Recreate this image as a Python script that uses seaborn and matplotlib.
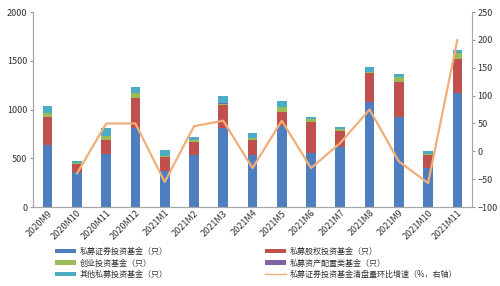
import numpy as np
import pandas as pd
import seaborn as sns
import matplotlib.pyplot as plt

months = ["2020M9", "2020M10", "2020M11", "2020M12", "2021M1", "2021M2", "2021M3",
          "2021M4", "2021M5", "2021M6", "2021M7", "2021M8", "2021M9", "2021M10", "2021M11"]

# 各类私募基金新增数量（只）
securities = [640, 360, 545, 810, 370, 530, 810, 535, 830, 555, 615, 1075, 920, 400, 1170]
equity = [280, 80, 145, 310, 140, 135, 235, 150, 145, 320, 165, 300, 360, 135, 350]
venture = [40, 10, 40, 50, 15, 25, 15, 20, 50, 30, 20, 10, 50, 10, 60]
allocation = [3, 2, 3, 3, 2, 2, 3, 2, 3, 2, 2, 3, 3, 2, 3]
others = [70, 20, 80, 60, 60, 30, 80, 55, 60, 20, 20, 50, 35, 30, 30]
# 私募证券投资基金清盘量环比增速（%）
growth = [np.nan, -40, 50, 50, -55, 45, 55, -30, 55, -30, 15, 75, -18, -57, 200]

labels = ["私募证券投资基金（只）", "私募股权投资基金（只）", "创业投资基金（只）",
          "私募资产配置类基金（只）", "其他私募投资基金（只）"]
colors = ["#4F7EC0", "#C0504D", "#9BBB59", "#8064A2", "#4BACC6"]
line_label = "私募证券投资基金清盘量环比增速（%，右轴）"

sns.set_style("white")
plt.rcParams['font.family'] = ['Noto Sans CJK SC', 'DejaVu Sans']

df = pd.DataFrame({"month": months})
series = [securities, equity, venture, allocation, others]
cum = np.cumsum(np.array(series, dtype=float), axis=0)

fig = plt.figure(figsize=(5, 2.86), dpi=100)
ax1 = fig.add_axes([0.066, 0.276, 0.878, 0.682])

# stacked bars: draw cumulative totals from top down
for i in range(len(series) - 1, -1, -1):
    df["val"] = cum[i]
    sns.barplot(data=df, x="month", y="val", color=colors[i], width=0.33,
                saturation=1, ax=ax1, label=labels[i], linewidth=0, edgecolor="none")

ax1.set_ylim(0, 2000)
ax1.set_yticks([0, 500, 1000, 1500, 2000])
ax1.set_xlim(-0.5, len(months) - 0.5)
ax1.set_xlabel("")
ax1.set_ylabel("")
ax1.tick_params(axis="y", labelsize=6.5, length=2, color="#999999", pad=2, labelcolor="#333333")
ax1.tick_params(axis="x", labelsize=6.5, length=0, pad=1, labelcolor="#333333")
plt.setp(ax1.get_xticklabels(), rotation=45, ha="right", rotation_mode="anchor")

ax2 = ax1.twinx()
sns.lineplot(x=np.arange(len(months)), y=growth, color="#F0AE78", linewidth=1.6,
             ax=ax2, label=line_label)
ax2.set_ylim(-100, 250)
ax2.set_yticks(range(-100, 251, 50))
ax2.tick_params(axis="y", labelsize=6.5, length=2, color="#999999", pad=2, labelcolor="#333333")
ax2.set_xlim(-0.5, len(months) - 0.5)

for ax in (ax1, ax2):
    ax.spines["top"].set_visible(False)
    for s in ("left", "right", "bottom"):
        ax.spines[s].set_color("#A6A6A6")
        ax.spines[s].set_linewidth(0.8)
ax1.spines["right"].set_visible(False)

h1, l1 = ax1.get_legend_handles_labels()
h2, l2 = ax2.get_legend_handles_labels()
ax2.get_legend().remove()
if ax1.get_legend():
    ax1.get_legend().remove()
hmap = dict(zip(l1, h1))
hs = [hmap[l] for l in labels] + h2
ls = labels + l2
# row-major into 2 columns
idx = [0, 2, 4, 1, 3, 5]
leg = fig.legend([hs[i] for i in idx], [ls[i] for i in idx], ncol=2, loc="upper left",
                 bbox_to_anchor=(0.11, 0.136), frameon=False, fontsize=5.8,
                 handlelength=2.6, handleheight=0.45, labelspacing=0.3,
                 columnspacing=12.0, handletextpad=0.5, borderaxespad=0, borderpad=0)
for t in leg.get_texts():
    t.set_color("#333333")
leg.get_lines()[-1].set_linewidth(1.0)

fig.savefig("out.png", dpi=100)
